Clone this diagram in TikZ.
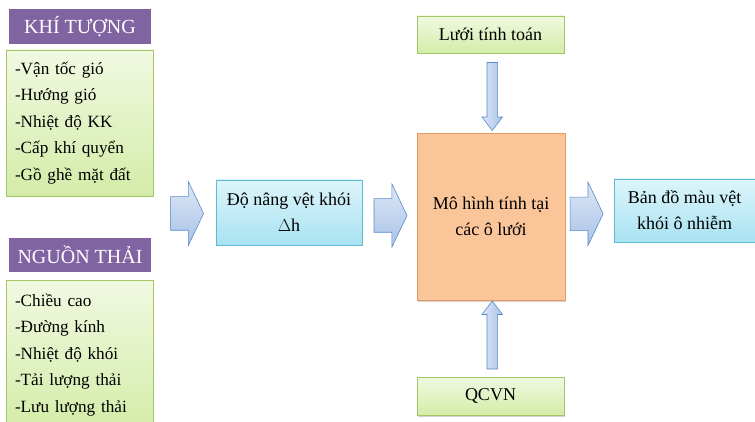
\documentclass[tikz,border=0pt]{standalone}
\usepackage{fontspec}
\setmainfont{Liberation Serif}
\usetikzlibrary{shapes.arrows,shadows,calc}

\definecolor{headpurple}{HTML}{8064A2}
\definecolor{greentop}{HTML}{F1F9E2}
\definecolor{greenbot}{HTML}{D4ECA8}
\definecolor{greenline}{HTML}{A3C766}
\definecolor{bluetop}{HTML}{DDF5FB}
\definecolor{bluebot}{HTML}{A8E2F1}
\definecolor{blueline}{HTML}{5DBBD3}
\definecolor{orangefill}{HTML}{FBC59A}
\definecolor{orangeline}{HTML}{E39A66}
\definecolor{arrowtop}{HTML}{DDE7F5}
\definecolor{arrowbot}{HTML}{A8C2E8}
\definecolor{arrowline}{HTML}{5A8AC8}

\begin{document}
\begin{tikzpicture}[x=1pt, y=-1pt,
    shade/.style={drop shadow={opacity=0.35, shadow xshift=1pt, shadow yshift=-1.5pt}},
    headbox/.style={shade, draw=white, line width=2.5pt, fill=headpurple,
        text=white, font=\fontsize{20}{24}\selectfont,
        minimum width=144, minimum height=37, inner sep=0pt},
    listbox/.style={shade, draw=greenline, line width=0.8pt,
        top color=greentop, bottom color=greenbot,
        font=\fontsize{17.2}{26.5}\selectfont, align=left,
        text width=129, inner xsep=9pt, minimum width=147},
    greenbox/.style={shade, draw=greenline, line width=0.8pt,
        top color=greentop, bottom color=greenbot,
        font=\fontsize{18}{26}\selectfont,
        minimum width=147, minimum height=37, inner sep=0pt},
    bluebox/.style={shade, draw=blueline, line width=0.8pt,
        top color=bluetop, bottom color=bluebot,
        font=\fontsize{18}{26}\selectfont, align=center},
    modelbox/.style={shade, draw=orangeline, line width=0.8pt, fill=orangefill,
        font=\fontsize{18}{26}\selectfont, align=center,
        minimum width=148, minimum height=167},
    bigarrow/.style={single arrow, draw=arrowline, line width=0.6pt,
        top color=arrowtop, bottom color=arrowbot,
        inner xsep=0pt, inner ysep=16.5pt,
        minimum height=33, minimum width=63,
        single arrow head extend=15pt, single arrow tip angle=129},
    thinarrow/.style={single arrow, draw=arrowline, line width=0.6pt,
        left color=arrowtop, right color=arrowbot,
        inner sep=5pt,
        minimum height=68, minimum width=20,
        single arrow head extend=5pt, single arrow tip angle=75}]
    \useasboundingbox (0,0) rectangle (755,422);
    \clip (0,0) rectangle (755,422);

    % Input groups
    \node [headbox] (kthead) at (80, 26.5) {KHÍ TƯỢNG};
    \node [listbox, minimum height=146] (ktlist) at (79.5, 123)
        {-Vận tốc gió\\-Hướng gió\\-Nhiệt độ KK\\-Cấp khí quyển\\-Gồ ghề mặt đất};
    \node [headbox] (nthead) at (80, 255) {NGUỒN THẢI};
    \node [listbox, minimum height=150] (ntlist) at (79.5, 355)
        {-Chiều cao\\-Đường kính\\-Nhiệt độ khói\\-Tải lượng thải\\-Lưu lượng thải};

    % Main chain
    \node [bluebox, minimum width=146, minimum height=65] (dh) at (289, 212.5)
        {Độ nâng vệt khói\\$\Delta$h};
    \node [modelbox] (model) at (491, 216.5) {Mô hình tính tại\\các ô lưới};
    \node [bluebox, minimum width=141, minimum height=63] (bando) at (684.5, 210.5)
        {Bản đồ màu vệt\\khói ô nhiễm};
    \node [greenbox] (luoi) at (490.5, 34.5) {Lưới tính toán};
    \node [greenbox, minimum height=38] (qcvn) at (490.5, 396) {QCVN};

    % Block arrows
    \node [bigarrow] (a1) at ($(dh.west)+(-32.5,1)$) {};
    \node [bigarrow] (a2) at ($(dh.east)!0.5!(model.west)+(-3,1)$) {};
    \node [bigarrow, minimum width=60] (a3) at ($(model.east)!0.44!(bando.west)+(-4,0)$) {};
    \node [thinarrow, shape border rotate=270] (a4) at ($(luoi.south)!0.5!(model.north)+(1.5,0)$) {};
    \node [thinarrow, shape border rotate=90] (a5) at ($(model.south)!0.5!(qcvn.north)+(1.5,0)$) {};
\end{tikzpicture}
\end{document}
